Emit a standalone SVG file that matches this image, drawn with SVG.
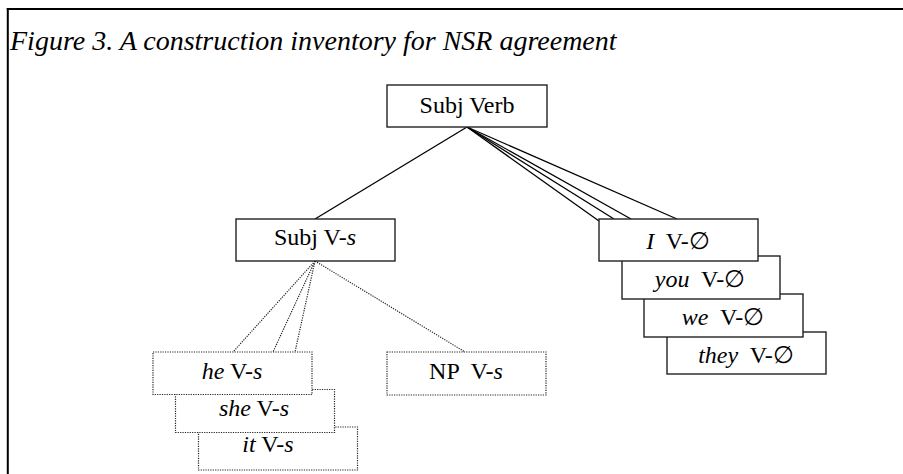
<svg xmlns="http://www.w3.org/2000/svg" width="903" height="474" viewBox="0 0 903 474" font-family="Liberation Serif, Times New Roman, serif">
<style>
  text { font-family: 'Liberation Serif', 'Times New Roman', serif; font-size: 24px; fill: #000; white-space: pre; }
  .title { font-size: 28px; font-style: italic; }
  .c { text-anchor: middle; }
  .i { font-style: italic; }
  .box { fill: #fff; stroke: #222; stroke-width: 1.4; }
  .dbox { fill: #fff; stroke: #222; stroke-width: 1.2; stroke-dasharray: 1.2 1.2; }
  .sl { stroke: #000; stroke-width: 1.3; fill: none; }
  .dl { stroke: #222; stroke-width: 1.2; stroke-dasharray: 1.2 1.2; fill: none; }
</style>
<rect x="0" y="0" width="903" height="474" fill="#fff"/>
<g id="frame">
  <line x1="6.8" y1="9" x2="903" y2="9" stroke="#000" stroke-width="2"/>
  <line x1="7.8" y1="8" x2="7.8" y2="474" stroke="#000" stroke-width="2"/>
</g>
<text id="title" class="title" x="10" y="50">Figure 3. A construction inventory for NSR agreement</text>
<g id="connectors">
  <line class="sl" x1="467" y1="127" x2="315" y2="219"/>
  <line class="sl" x1="467" y1="127" x2="599" y2="221"/>
  <line class="sl" x1="467" y1="127" x2="614" y2="219"/>
  <line class="sl" x1="467" y1="127" x2="631" y2="219"/>
  <line class="sl" x1="467" y1="127" x2="677" y2="219"/>
  <line class="dl" x1="315" y1="261" x2="233" y2="352"/>
  <line class="dl" x1="315" y1="261" x2="273" y2="352"/>
  <line class="dl" x1="315" y1="261" x2="295" y2="352"/>
  <line class="dl" x1="315" y1="261" x2="465" y2="352"/>
</g>
<g id="subj-verb">
  <rect class="box" x="387" y="85" width="160" height="42"/>
  <text class="c" x="467" y="113">Subj Verb</text>
</g>
<g id="subj-v-s">
  <rect class="box" x="236" y="219" width="159" height="42"/>
  <text class="c" x="315" y="245">Subj V-<tspan class="i">s</tspan></text>
</g>
<g id="it-v-s">
  <rect class="dbox" x="198.5" y="427" width="159" height="43"/>
  <text class="c" x="268" y="452"><tspan class="i">it</tspan> V-<tspan class="i">s</tspan></text>
</g>
<g id="she-v-s">
  <rect class="dbox" x="175.5" y="389.5" width="159" height="43"/>
  <text class="c" x="254" y="416"><tspan class="i">she</tspan> V-<tspan class="i">s</tspan></text>
</g>
<g id="he-v-s">
  <rect class="dbox" x="153" y="352" width="159" height="42.5"/>
  <text class="c" x="232" y="379"><tspan class="i">he</tspan> V-<tspan class="i">s</tspan></text>
</g>
<g id="np-v-s">
  <rect class="dbox" x="387" y="352" width="159" height="43"/>
  <text class="c" x="466" y="379">NP  V-<tspan class="i">s</tspan></text>
</g>
<g id="they-v">
  <rect class="box" x="667" y="332" width="159" height="42"/>
  <text class="c" x="746" y="363"><tspan class="i">they</tspan>  V-∅</text>
</g>
<g id="we-v">
  <rect class="box" x="644" y="294" width="159" height="43"/>
  <text class="c" x="723" y="325"><tspan class="i">we</tspan>  V-∅</text>
</g>
<g id="you-v">
  <rect class="box" x="622" y="256" width="158" height="43"/>
  <text class="c" x="700" y="287"><tspan class="i">you</tspan>  V-∅</text>
</g>
<g id="i-v">
  <rect class="box" x="599" y="219" width="159" height="42"/>
  <text class="c" x="678" y="249"><tspan class="i">I</tspan>  V-∅</text>
</g>
</svg>
